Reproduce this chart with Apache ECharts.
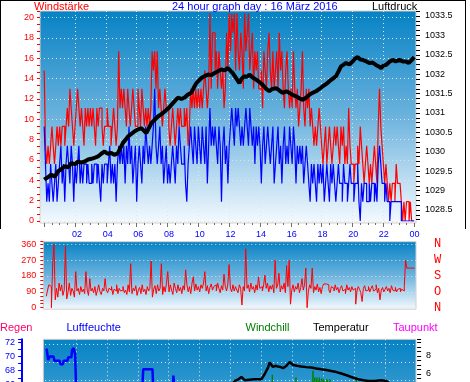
<!DOCTYPE html>
<html><head><meta charset="utf-8">
<script src="https://cdn.jsdelivr.net/npm/echarts@6/dist/echarts.min.js"></script>
<style>html,body{margin:0;padding:0;background:#fff;}#c{width:470px;height:382px;}</style>
</head><body><div id="c"></div>
<script>
// ---------------- DATA ----------------
// 5-minute samples from 00:00 to 24:00 (289 values)
const hourLabels = ['00','02','04','06','08','10','12','14','16','18','20','22','00'];
const sampleMinutes = 5;

// wind gusts (Böen), km/h
const gust = [
14.8,7.4,5.6,7.4,5.6,7.4,9.3,7.4,5.6,7.4,9.3,7.4,
9.3,7.4,9.3,9.3,7.4,9.3,11.1,9.3,13.0,11.1,9.3,7.4,
9.3,11.1,13.0,11.1,9.3,11.1,9.3,7.4,11.1,9.3,11.1,9.3,
11.1,9.3,11.1,9.3,7.4,11.1,9.3,11.1,11.1,9.3,7.4,9.3,
9.3,11.1,9.3,9.3,7.4,9.3,11.1,9.3,7.4,9.3,16.7,11.1,
13.0,11.1,13.0,11.1,9.3,13.0,11.1,9.3,11.1,13.0,11.1,9.3,
9.3,13.0,11.1,9.3,13.0,11.1,9.3,11.1,9.3,11.1,9.3,11.1,
16.7,14.8,16.7,13.0,16.7,11.1,13.0,11.1,9.3,11.1,13.0,11.1,
11.1,9.3,7.4,9.3,11.1,9.3,7.4,9.3,11.1,9.3,11.1,9.3,
9.3,11.1,9.3,11.1,7.4,9.3,13.0,11.1,13.0,11.1,13.0,11.1,
13.0,11.1,13.0,11.1,13.0,14.8,13.0,11.1,13.0,20.4,13.0,18.5,
18.5,14.8,16.7,13.0,16.7,14.8,13.0,14.8,11.1,13.0,18.5,14.8,
20.4,16.7,20.4,18.5,20.4,14.8,20.4,16.7,14.8,18.5,16.7,13.0,
20.4,16.7,18.5,20.4,14.8,16.7,18.5,13.0,16.7,14.8,16.7,13.0,
13.0,14.8,11.1,16.7,14.8,13.0,16.7,18.5,14.8,13.0,16.7,13.0,
14.8,16.7,13.0,18.5,14.8,16.7,13.0,11.1,14.8,16.7,13.0,11.1,
13.0,11.1,16.7,13.0,11.1,13.0,9.3,11.1,13.0,16.7,11.1,9.3,
13.0,11.1,13.0,9.3,11.1,9.3,7.4,9.3,7.4,9.3,11.1,9.3,
7.4,5.6,7.4,9.3,5.6,7.4,9.3,7.4,5.6,7.4,9.3,7.4,
9.3,7.4,5.6,9.3,7.4,9.3,5.6,7.4,5.6,11.1,7.4,5.6,
5.6,3.7,5.6,5.6,7.4,5.6,9.3,7.4,5.6,3.7,5.6,7.4,
5.6,3.7,5.6,3.7,5.6,7.4,5.6,3.7,9.3,13.0,9.3,7.4,
5.6,3.7,5.6,3.7,1.9,3.7,1.9,3.7,3.7,1.9,5.6,3.7,
3.7,3.7,1.9,0,1.9,0,1.9,1.9,0,1.9,0,0,
0];

// mean wind speed, km/h
const wind = [
9.3,5.6,1.9,3.7,1.9,5.6,3.7,1.9,3.7,5.6,1.9,3.7,
5.6,7.4,3.7,5.6,1.9,5.6,7.4,5.6,3.7,7.4,5.6,1.9,
5.6,3.7,5.6,7.4,3.7,5.6,3.7,5.6,5.6,3.7,5.6,3.7,
3.7,5.6,3.7,5.6,5.6,3.7,5.6,3.7,1.9,5.6,3.7,5.6,
5.6,3.7,5.6,7.4,3.7,5.6,3.7,5.6,1.9,5.6,7.4,5.6,
7.4,5.6,7.4,3.7,7.4,5.6,9.3,5.6,7.4,3.7,5.6,7.4,
1.9,5.6,7.4,5.6,3.7,7.4,5.6,9.3,7.4,5.6,7.4,5.6,
7.4,9.3,13.0,7.4,5.6,7.4,9.3,5.6,7.4,3.7,5.6,7.4,
3.7,5.6,3.7,5.6,7.4,5.6,3.7,7.4,5.6,9.3,7.4,5.6,
5.6,7.4,3.7,1.9,5.6,7.4,9.3,7.4,5.6,9.3,7.4,5.6,
9.3,7.4,5.6,9.3,7.4,5.6,9.3,3.7,7.4,11.1,7.4,9.3,
7.4,9.3,7.4,5.6,9.3,7.4,1.9,7.4,9.3,5.6,7.4,3.7,
7.4,9.3,11.1,9.3,7.4,11.1,9.3,11.1,9.3,7.4,9.3,7.4,
9.3,11.1,9.3,7.4,11.1,9.3,7.4,9.3,5.6,9.3,7.4,9.3,
7.4,3.7,7.4,9.3,5.6,7.4,9.3,7.4,5.6,7.4,9.3,3.7,
5.6,7.4,9.3,5.6,7.4,3.7,7.4,9.3,5.6,7.4,5.6,9.3,
7.4,5.6,9.3,7.4,3.7,7.4,5.6,7.4,5.6,7.4,3.7,5.6,
7.4,5.6,3.7,1.9,5.6,3.7,5.6,3.7,1.9,5.6,3.7,5.6,
3.7,5.6,1.9,3.7,5.6,3.7,1.9,5.6,3.7,5.6,3.7,1.9,
3.7,5.6,3.7,3.7,1.9,5.6,3.7,3.7,1.9,3.7,5.6,3.7,
3.7,1.9,3.7,3.7,5.6,1.9,0,3.7,1.9,3.7,3.7,1.9,
1.9,3.7,1.9,3.7,3.7,1.9,3.7,1.9,5.6,7.4,5.6,3.7,
3.7,1.9,3.7,1.9,1.9,0,1.9,1.9,1.9,1.9,1.9,1.9,
1.9,1.9,0,0,0,0,0,0,0,0,0,0,
0];

// wind direction, degrees
const windDir = [
65,100,130,120,0,255,360,45,110,60,140,95,
130,70,100,350,50,90,140,70,110,95,60,205,
95,110,75,120,90,105,80,205,100,70,165,95,
110,85,120,70,100,130,90,75,110,95,165,100,
85,110,100,120,75,105,95,130,80,110,95,100,
120,85,100,75,130,90,250,80,110,95,125,70,
100,115,80,130,90,105,75,120,95,110,265,60,
105,125,80,130,95,110,250,75,120,90,140,205,
90,130,100,75,140,110,85,130,95,115,80,125,
100,215,130,90,120,80,140,175,95,135,100,120,
90,130,110,140,205,95,125,80,115,135,100,120,
130,95,140,110,85,125,100,190,120,95,135,245,
110,90,130,95,120,100,85,130,110,15,120,95,
335,110,130,90,140,105,120,85,130,100,175,110,
120,95,130,185,110,140,90,125,105,130,85,270,
110,130,195,90,125,105,140,85,240,120,270,20,
100,130,90,120,105,140,85,115,165,100,130,225,
0,95,130,110,225,85,120,100,135,90,115,80,
120,135,135,135,130,100,85,120,110,95,130,100,
115,85,110,125,95,105,80,130,100,115,90,120,
100,110,20,95,120,105,85,35,110,125,95,100,
120,90,110,125,95,105,130,85,110,45,100,115,
90,105,120,95,110,85,125,100,95,115,90,105,
110,90,105,95,120,270,225,225,225,225,225,225,
225];

// air pressure (hour, hPa)
const pressHours = [0.0,0.25,0.46,0.7,0.9,1.1,1.33,1.55,1.76,2.0,2.19,2.4,2.63,2.85,3.06,3.3,3.49,3.7,3.92,4.1,4.35,4.55,4.79,4.95,5.11,5.3,5.44,5.65,5.87,6.1,6.3,6.45,6.62,6.8,6.95,7.15,7.38,7.6,7.82,8.05,8.25,8.45,8.68,8.9,9.11,9.3,9.54,9.7,9.87,10.05,10.19,10.4,10.63,10.85,11.06,11.3,11.49,11.7,11.92,12.1,12.23,12.45,12.66,12.8,12.98,13.15,13.31,13.5,13.74,13.95,14.17,14.4,14.6,14.8,15.04,15.25,15.47,15.7,15.9,16.1,16.33,16.55,16.77,17.0,17.2,17.4,17.63,17.85,18.07,18.3,18.5,18.7,18.93,19.1,19.25,19.4,19.58,19.8,20.01,20.15,20.34,20.5,20.66,20.9,21.09,21.3,21.52,21.7,21.85,22.0,22.17,22.4,22.61,22.8,23.04,23.25,23.47,23.65,23.8,24.0];
const pressHpa = [1029.28,1029.35,1029.41,1029.36,1029.50,1029.55,1029.63,1029.60,1029.71,1029.68,1029.75,1029.72,1029.75,1029.80,1029.82,1029.85,1029.88,1029.95,1030.01,1029.95,1029.97,1029.92,1029.97,1030.10,1030.23,1030.32,1030.40,1030.46,1030.53,1030.58,1030.61,1030.55,1030.48,1030.62,1030.74,1030.82,1030.91,1030.97,1031.04,1031.12,1031.21,1031.30,1031.40,1031.36,1031.40,1031.47,1031.52,1031.65,1031.77,1031.84,1031.90,1031.95,1031.99,1031.98,1032.03,1032.08,1032.12,1032.10,1032.16,1032.08,1032.03,1031.90,1031.77,1031.88,1031.95,1031.93,1031.99,1031.92,1031.86,1031.80,1031.73,1031.62,1031.56,1031.62,1031.64,1031.58,1031.52,1031.56,1031.52,1031.47,1031.43,1031.38,1031.34,1031.40,1031.47,1031.52,1031.56,1031.62,1031.69,1031.75,1031.82,1031.88,1031.95,1032.08,1032.20,1032.24,1032.29,1032.25,1032.33,1032.40,1032.44,1032.38,1032.37,1032.33,1032.29,1032.30,1032.24,1032.20,1032.16,1032.22,1032.24,1032.32,1032.37,1032.33,1032.37,1032.33,1032.33,1032.29,1032.35,1032.44];

// humidity (hour, %)
const humHours = [0.1,0.15,0.2,0.3,0.55,0.6,0.95,1.0,1.15,1.2,1.45,1.5,1.7,1.75,1.85,1.95,2.05,6.2,6.35,6.95,7.05,8.25,8.3,8.4,8.45,24];
const humPct   = [71.1,71.1,69.5,70.0,70.0,69.4,69.4,68.9,68.9,69.4,69.4,69.9,69.9,70.9,71.2,70.3,62,62,68.2,68.2,62,62,67.3,67.3,62,62];

// temperature (hour, °C)
const tempHours = [12.0,12.27,12.5,12.7,12.91,13.2,13.56,13.99,14.2,14.42,14.53,14.74,14.9,15.07,15.25,15.39,15.6,15.82,16.04,16.3,16.57,16.9,17.22,17.55,17.87,18.2,18.51,18.85,19.16,19.5,19.81,20.24,20.6,20.89,21.3,21.75,22.07,22.3,22.6,24];
const tempC     = [4.6,5.22,5.4,5.66,5.3,5.35,5.41,5.41,5.96,6.7,7.26,6.77,6.9,6.81,6.75,6.63,6.88,7.32,6.99,6.9,6.81,6.75,6.7,6.6,6.51,6.42,6.33,6.2,6.04,5.85,5.66,5.41,5.3,5.22,5.22,5.3,5.22,4.95,4.6,4.2];

// windchill (hour, °C)
const chillHours = [14.0,14.68,14.7,14.72,16.2,16.23,16.25,16.27,17.3,17.33,17.35,17.45,17.47,17.6,17.62,17.75,17.77,17.9,17.98,18.0,18.2,18.22,18.4,18.42,18.5,20.1,20.13,20.15,24];
const chillC     = [3.5,3.5,5.9,3.5,3.5,5.6,3.5,3.5,3.5,6.35,4.5,5.6,4.5,5.6,4.5,5.6,4.5,5.5,4.5,5.4,4.5,5.4,4.5,5.4,3.5,3.5,5.6,3.5,3.5];

// ---------------- CHART ----------------
const stepH = sampleMinutes / 60;
const seq = arr => arr.map((v, i) => [i * stepH, v]);
const zip = (a, b) => a.map((t, i) => [t, b[i]]);

const bg = {type:'linear', x:0, y:0, x2:0, y2:1, colorStops:[
  {offset:0, color:'#0582c4'}, {offset:0.5, color:'#6cb3de'}, {offset:1, color:'#f5faff'}]};
const bg3 = {type:'linear', x:0, y:0, x2:0, y2:1, colorStops:[
  {offset:0, color:'#0582c4'}, {offset:1, color:'#f5faff'}]};
const dotted = {show:true, showMinLine:true, showMaxLine:false, lineStyle:{color:'#e4e4e4', width:1, type:[1,3]}};
const dottedV = {show:true, showMinLine:false, showMaxLine:false, lineStyle:{color:'#e4e4e4', width:1, type:[1,3]}};
const FONT = '"Liberation Sans", Arial, sans-serif';
const tickFont = {fontFamily: FONT, fontSize: 9};

function near(v, step){ return Math.abs(v/step - Math.round(v/step)) < 1e-6; }
const dirNames = {0:'N', 90:'O', 180:'S', 270:'W', 360:'N'};

const chart = echarts.init(document.getElementById('c'), null, {renderer:'canvas'});
const txt = (text, x, y, color) => ({type:'text', x, y, z:10, silent:true,
  style:{text, fill:color, font:'11px ' + FONT, verticalAlign:'middle'}});
const G = o => Object.assign({outerBoundsMode:'none', containLabel:false}, o);
const noLine = {show:false, onZero:false};

chart.setOption({
  animation:false,
  backgroundColor:'#ffffff',
  graphic:{elements:[
    {type:'rect', z:-10, silent:true, shape:{x:40, y:11, width:376, height:212}, style:{fill:bg, stroke:'#d4d0c8', lineWidth:1}},
    {type:'rect', z:-10, silent:true, shape:{x:43.3, y:241.7, width:372.7, height:67.5}, style:{fill:bg, stroke:'#d4d0c8', lineWidth:1}},
    {type:'rect', z:-10, silent:true, shape:{x:43.3, y:339.3, width:372.7, height:260}, style:{fill:bg3, stroke:'#d4d0c8', lineWidth:1}},
    {type:'line', z:10, silent:true, shape:{x1:0, y1:0.5, x2:466, y2:0.5}, style:{stroke:'#000', lineWidth:1}},
    {type:'line', z:10, silent:true, shape:{x1:0.5, y1:0, x2:0.5, y2:229}, style:{stroke:'#000', lineWidth:1}},
    {type:'line', z:10, silent:true, shape:{x1:465.5, y1:0, x2:465.5, y2:229}, style:{stroke:'#000', lineWidth:1}},
    txt('Windstärke', 34, 6.5, '#ff0000'),
    txt('24 hour graph day : 16 März 2016', 172, 6.5, '#0000ff'),
    txt('Luftdruck', 372, 6.5, '#000000'),
    txt('Regen', 0, 328, '#ff0066'),
    txt('Luftfeuchte', 66.5, 328, '#0000ff'),
    txt('Windchill', 245.5, 328, '#008000'),
    txt('Temperatur', 313, 328, '#000000'),
    txt('Taupunkt', 393, 328, '#ff00ff')
  ]},
  grid:[
    G({left:40, right:54, top:11, height:210}),            // 0 wind axis frame
    G({left:44.2, right:55.8, top:11.15, height:208.55}),  // 1 pressure
    G({left:44.2, right:55.8, top:11, height:210}),        // 2 wind data
    G({left:43.3, right:54, top:241.7, height:66}),        // 3 direction frame
    G({left:46.3, right:55.5, top:241.7, height:66}),      // 4 direction data
    G({left:45.07, right:53.9, top:339.3, height:201.7})   // 5 bottom panel
  ],
  xAxis:[
    {gridIndex:0, type:'value', min:0, max:1, show:false},
    {gridIndex:1, type:'value', min:0, max:24, show:false},
    {gridIndex:2, type:'value', min:0, max:24, interval:2, offset:2,
      axisLine:noLine, axisLabel:{show:false},
      axisTick:{show:true, length:4, lineStyle:{color:'#707070'}},
      minorTick:{show:true, splitNumber:4, length:2, lineStyle:{color:'#707070'}},
      splitLine:dottedV},
    {gridIndex:3, type:'value', min:0, max:1, show:false},
    {gridIndex:4, type:'value', min:0, max:24, interval:2, position:'top',
      axisLine:noLine, axisTick:{show:false}, splitLine:{show:false},
      axisLabel:{color:'#0000ff', fontFamily:FONT, fontSize:9, margin:3,
        formatter: v => (v > 0 && near(v,2)) ? hourLabels[Math.round(v/2)] : ''}},
    {gridIndex:5, type:'value', min:0, max:24, interval:2,
      axisLine:noLine, axisTick:{show:false}, axisLabel:{show:false}, splitLine:dottedV}
  ],
  yAxis:[
    {gridIndex:0, type:'value', min:0, max:20.65, interval:2, position:'left',
      axisLine:noLine,
      axisTick:{show:true, length:3, lineStyle:{color:'#ff0000'}},
      minorTick:{show:true, splitNumber:3, length:3, lineStyle:{color:'#ff0000'}},
      axisLabel:Object.assign({color:'#ff0000', margin:6, formatter: v => near(v,2) ? String(Math.round(v)) : ''}, tickFont),
      splitLine:dotted},
    {gridIndex:1, type:'value', min:1028.25, max:1033.625, interval:0.125, position:'right', offset:1.8,
      axisLine:noLine,
      axisTick:{show:true, length:4, lineStyle:{color:'#000'}},
      axisLabel:Object.assign({color:'#000', margin:9, formatter: v => near(v,0.5) ? String(Math.round(v*2)/2) : ''}, tickFont),
      splitLine:{show:false}},
    {gridIndex:2, type:'value', min:0, max:20.65, show:false},
    {gridIndex:3, type:'value', min:0, max:374.8, interval:90, position:'left',
      axisLine:noLine,
      axisTick:{show:true, length:3, lineStyle:{color:'#ff0000'}},
      minorTick:{show:true, splitNumber:4, length:3, lineStyle:{color:'#ff0000'}},
      axisLabel:Object.assign({color:'#ff0000', margin:7, formatter: v => near(v,90) ? String(Math.round(v)) : ''}, tickFont),
      splitLine:dotted},
    {gridIndex:3, type:'value', min:0, max:374.8, interval:90, position:'right',
      axisLine:noLine, axisTick:{show:false}, splitLine:{show:false},
      axisLabel:{color:'#ff0000', fontFamily:'"Liberation Mono", monospace', fontSize:12, margin:18,
        formatter: v => near(v,90) ? (dirNames[Math.round(v)] || '') : ''}},
    {gridIndex:4, type:'value', min:0, max:374.8, show:false},
    {gridIndex:5, type:'value', min:44, max:72.42, interval:1, position:'left', offset:23,
      axisLine:{show:true, onZero:false, lineStyle:{color:'#0000ff', width:2}},
      axisTick:{show:true, length:4, lineStyle:{color:'#0000ff'}},
      axisLabel:Object.assign({color:'#0000ff', margin:7, formatter: v => near(v,2) ? String(Math.round(v)) : ''}, tickFont),
      splitLine:{show:false}},
    {gridIndex:5, type:'value', min:-12.5, max:9.83, interval:0.5, position:'right', offset:1,
      axisLine:noLine,
      axisTick:{show:true, length:4, lineStyle:{color:'#000'}},
      axisLabel:Object.assign({color:'#000', margin:9, formatter: v => near(v,2) ? String(Math.round(v)) : ''}, tickFont),
      splitLine:{show:false}},
    {gridIndex:5, type:'value', min:0, max:11.29, interval:1, position:'right',
      axisLine:noLine, axisTick:{show:false}, axisLabel:{show:false},
      splitLine:{show:true, showMinLine:false, showMaxLine:false, lineStyle:{color:'#e4e4e4', width:1, type:[1,3]}}}
  ],
  series:[
    {name:'Böen', type:'line', xAxisIndex:2, yAxisIndex:2, step:'end', data:seq(gust), symbol:'none',
      lineStyle:{color:'#ff0000', width:1.2}, z:2},
    {name:'Wind', type:'line', xAxisIndex:2, yAxisIndex:2, step:'end', data:seq(wind), symbol:'none',
      lineStyle:{color:'#0000ff', width:1.2}, z:3},
    {name:'Luftdruck', type:'line', xAxisIndex:1, yAxisIndex:1, data:zip(pressHours, pressHpa), symbol:'none',
      lineStyle:{color:'#000', width:4}, z:4},
    {name:'Windrichtung', type:'line', xAxisIndex:4, yAxisIndex:5, step:'end', data:seq(windDir), symbol:'none',
      lineStyle:{color:'#ff0000', width:1}, z:3},
    {name:'Luftfeuchte', type:'line', xAxisIndex:5, yAxisIndex:6, data:zip(humHours, humPct), symbol:'none',
      lineStyle:{color:'#0000ff', width:2.5}, z:3},
    {name:'Windchill', type:'line', xAxisIndex:5, yAxisIndex:7, data:zip(chillHours, chillC), symbol:'none',
      lineStyle:{color:'#008000', width:1}, z:3},
    {name:'Temperatur', type:'line', xAxisIndex:5, yAxisIndex:7, data:zip(tempHours, tempC), symbol:'none',
      lineStyle:{color:'#000', width:2.5}, z:4}
  ]
});
</script></body></html>
